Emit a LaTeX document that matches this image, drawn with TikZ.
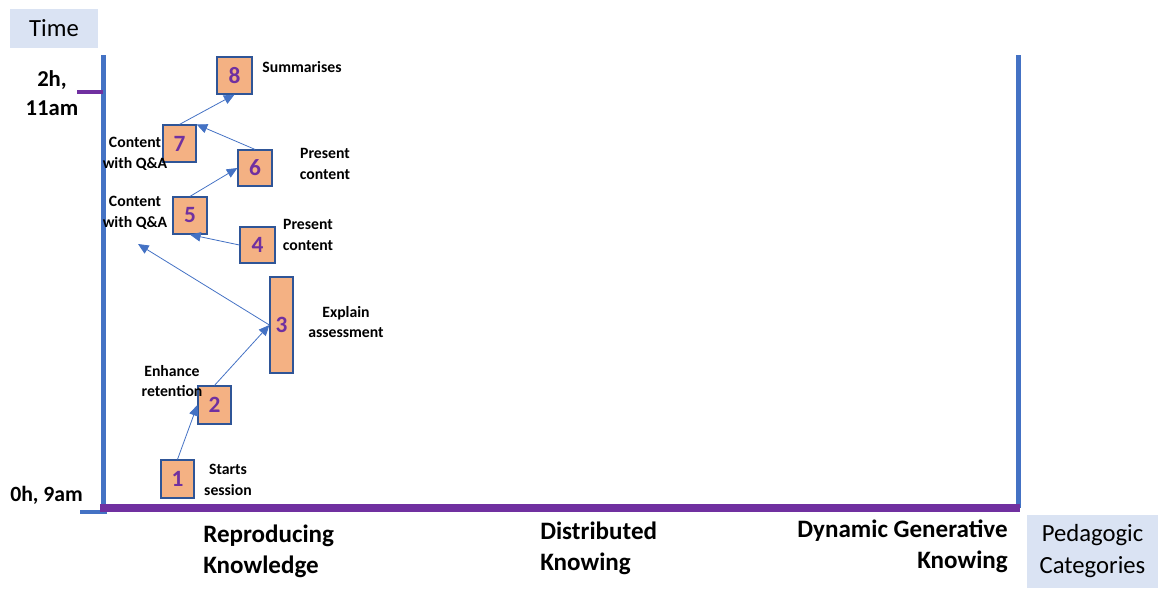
\documentclass[tikz,border=0pt]{standalone}
\usepackage{fontspec}
\setmainfont{Carlito}
\usetikzlibrary{arrows.meta}
\definecolor{lineblue}{HTML}{4472C4}
\definecolor{boxblue}{HTML}{2F5597}
\definecolor{axispurple}{HTML}{7030A0}
\definecolor{stepfill}{HTML}{F4B183}
\definecolor{keyfill}{HTML}{DAE3F3}
\begin{document}
\begin{tikzpicture}[x=0.75pt,y=-0.75pt]
\tikzstyle{stepbox} = [draw=boxblue, line width=0.9pt, fill=stepfill, inner sep=0pt, text=axispurple, font=\fontsize{17.5}{17.5}\selectfont\bfseries]
\tikzstyle{note} = [align=center, inner sep=0pt, font=\fontsize{11.8}{15.5}\selectfont\bfseries]
\tikzstyle{category} = [inner sep=0pt, font=\fontsize{18.8}{23.5}\selectfont\bfseries]
\tikzstyle{key} = [fill=keyfill, inner sep=0pt, align=center, font=\fontsize{18.5}{24}\selectfont]
\tikzstyle{flow} = [draw=lineblue, line width=0.6pt, -{Triangle[length=8pt,width=7pt]}]

\useasboundingbox (0,0) rectangle (1161,590);

% axes
\draw[lineblue, line width=3.75pt] (103,55) -- (103,513);
\draw[lineblue, line width=3.75pt] (1018,55) -- (1018,508);
\draw[lineblue, line width=3pt] (80,512) -- (107,512);
\draw[axispurple, line width=6pt] (100,508) -- (1020,508);
\draw[axispurple, line width=3pt] (77,92) -- (103,92);

\node[key, minimum width=66pt, minimum height=29pt] (time) at (54,28.5) {Time};
\node[key, minimum width=98pt, minimum height=55pt] (pedcat) at (1092.5,551.5) {Pedagogic\\Categories};

\node[category, align=center, font=\fontsize{17}{22}\selectfont\bfseries] (t2) at (52,93) {2h,\\11am};
\node[category, anchor=west, font=\fontsize{16.3}{20}\selectfont\bfseries] (t0) at (10,495) {0h, 9am};

\node[category, align=left, anchor=west] (repro) at (203,551) {Reproducing\\Knowledge};
\node[category, align=left, anchor=west] (distr) at (540,548) {Distributed\\Knowing};
\node[category, align=right, anchor=east] (dyna) at (1008,546) {Dynamic Generative\\Knowing};

\node[stepbox, minimum width=24.75pt, minimum height=28.5pt] (s1) at (177.5,479) {1};
\node[stepbox, minimum width=24.75pt, minimum height=28.5pt] (s2) at (214.5,405) {2};
\node[stepbox, minimum width=17.25pt, minimum height=72pt] (s3) at (281.5,325) {3};
\node[stepbox, minimum width=26.25pt, minimum height=27pt] (s4) at (257.5,245) {4};
\node[stepbox, minimum width=25.5pt, minimum height=27.75pt] (s5) at (190,215.5) {5};
\node[stepbox, minimum width=25.5pt, minimum height=27pt] (s6) at (255,168) {6};
\node[stepbox, minimum width=24.75pt, minimum height=27.75pt] (s7) at (179.5,143.5) {7};
\node[stepbox, minimum width=26.25pt, minimum height=27.75pt] (s8) at (234.5,75.5) {8};

\node[note] (n1) at (228,480) {Starts\\session};
\node[note] (n2) at (172,381) {Enhance\\retention};
\node[note] (n3) at (346,322) {Explain\\assessment};
\node[note] (n4) at (308,235) {Present\\content};
\node[note] (n5) at (135,213) {Content\\with Q\&A};
\node[note] (n6) at (325,164) {Present\\content};
\node[note] (n7) at (135,154) {Content\\with Q\&A};
\node[note] (n8) at (302,67) {Summarises};

\coordinate (qa) at (138,244);

\draw[flow] (s1.north) -- (s2.west);
\draw[flow] (s2.north) -- (s3.west);
\draw[flow] (s3.west) -- (qa);
\draw[flow] (s4.west) -- (s5.south);
\draw[flow] (s5.north) -- (s6.west);
\draw[flow] (s6.north) -- (s7.north east);
\draw[flow] (s7.north) -- (s8.south);
\end{tikzpicture}
\end{document}
